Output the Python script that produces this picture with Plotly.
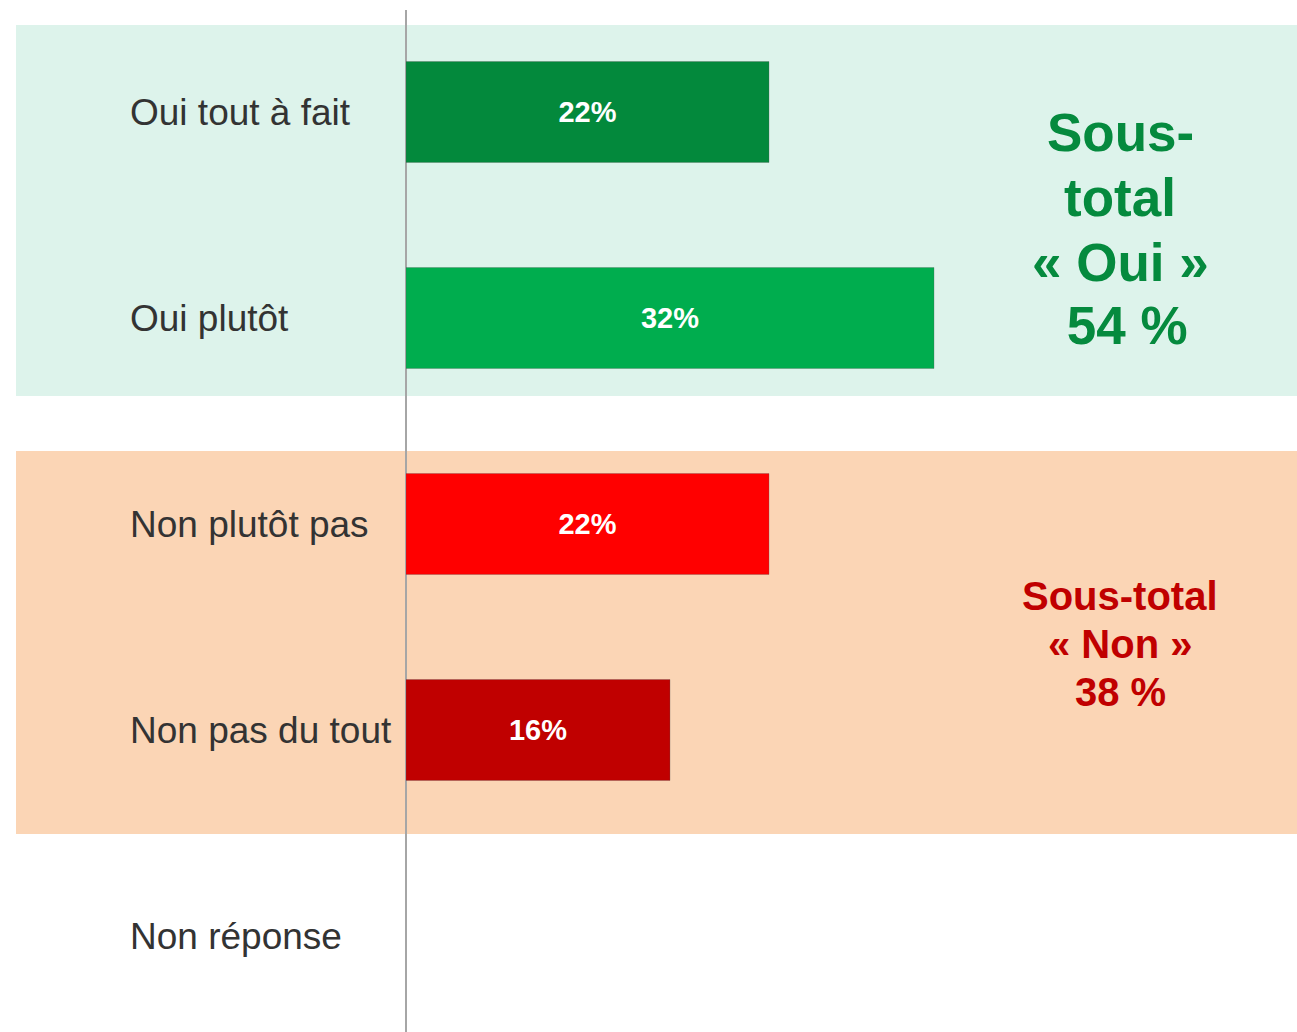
import plotly.graph_objects as go

categories = ["Oui tout à fait", "Oui plutôt", "Non plutôt pas", "Non pas du tout", "Non réponse"]
values = [22, 32, 22, 16, 0]
bar_labels = ["22%", "32%", "22%", "16%", ""]
bar_colors = ["#03893C", "#00AD4E", "#FF0000", "#C00000", "rgba(0,0,0,0)"]

oui_lines = ["Sous-", "total", "« Oui »", " 54 %"]
non_lines = ["Sous-total", "« Non »", "38 %"]

W, H = 1297, 1032
x0_px = 406
px_per_unit = 16.5
cat_top_px = 112
cat_step_px = 206

def py(p):
    return 1 - p / H

fig = go.Figure()
fig.add_trace(go.Bar(
    y=categories, x=values, orientation="h",
    marker=dict(color=bar_colors, line=dict(width=[1, 1, 1, 1, 0], color="rgba(90,90,90,0.3)")),
    text=bar_labels, textposition="inside", insidetextanchor="middle",
    textfont=dict(family="Liberation Sans, Arial", size=29, color="white", weight="bold"),
    width=0.49, hoverinfo="skip", cliponaxis=False,
))

x_max = (W - x0_px) / px_per_unit
y_top = -cat_top_px / cat_step_px
y_bot = (H - cat_top_px) / cat_step_px

shapes = [
    dict(type="rect", xref="paper", yref="paper", x0=16 / W, x1=1, y0=py(396), y1=py(25),
         fillcolor="#DDF3EB", line=dict(width=0), layer="below"),
    dict(type="rect", xref="paper", yref="paper", x0=16 / W, x1=1, y0=py(834), y1=py(451),
         fillcolor="#FBD5B5", line=dict(width=0), layer="below"),
    dict(type="line", xref="paper", yref="paper", x0=x0_px / W, x1=x0_px / W, y0=0, y1=py(10),
         line=dict(color="#A6A6A6", width=2), layer="below"),
]

annotations = []
for c in categories:
    annotations.append(dict(xref="paper", yref="y", x=128 / W, y=c, text=c, showarrow=False,
                            xanchor="left", yanchor="middle",
                            font=dict(family="Liberation Sans, Arial", size=37, color="#333333")))

oui_y = [132, 197, 262, 325]
for t, yy in zip(oui_lines, oui_y):
    annotations.append(dict(xref="paper", yref="paper", x=1120 / W, y=py(yy), text=t, showarrow=False,
                            xanchor="center", yanchor="middle",
                            font=dict(family="Liberation Sans, Arial", size=53, color="#058A3E", weight="bold")))
non_y = [596, 644, 692]
for t, yy in zip(non_lines, non_y):
    annotations.append(dict(xref="paper", yref="paper", x=1120 / W, y=py(yy), text=t, showarrow=False,
                            xanchor="center", yanchor="middle",
                            font=dict(family="Liberation Sans, Arial", size=40, color="#C00000", weight="bold")))

fig.update_layout(
    width=W, height=H,
    margin=dict(l=0, r=0, t=0, b=0),
    paper_bgcolor="white", plot_bgcolor="rgba(0,0,0,0)",
    showlegend=False,
    xaxis=dict(domain=[x0_px / W, 1], range=[0, x_max], visible=False, fixedrange=True),
    yaxis=dict(domain=[0, 1], type="category", categoryarray=categories,
               range=[y_bot, y_top], visible=False, fixedrange=True),
    shapes=shapes, annotations=annotations,
)

fig.write_html("out.html", config={"displayModeBar": False},
               post_script="document.body.style.margin='0';document.body.style.overflow='hidden';")
